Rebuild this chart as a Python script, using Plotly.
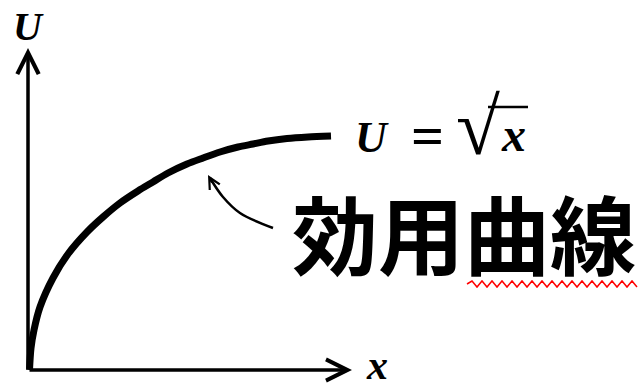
import plotly.graph_objects as go

# Utility curve U = sqrt(x) (arbitrary units)
curve_x = [0.15, 0.3, 0.6, 1.2, 2.5, 4.0, 5.9, 7.5, 9.2, 11.0, 12.5, 14.0, 15.9,
           17.5, 19.2, 21.0, 22.5, 24.0, 25.9, 28.0, 30.3]
curve_u = [0.0, 2.2, 4.0, 6.3, 9.2, 11.6, 13.8, 15.3, 16.7, 17.9, 18.8, 19.7, 20.6,
           21.2, 21.8, 22.3, 22.6, 22.9, 23.15, 23.3, 23.4]

# pointer arrow from label to curve
pointer_x = [24.5, 21.2, 19.5, 18.2]
pointer_u = [14.2, 15.7, 17.3, 19.2]

x_axis_end = 32.4
u_axis_end = 32.2

title_text = "効用曲線"
formula_parts = ["<b><i>U</i></b>", "<b>=</b>", "√", "<b><i>x</i></b>"]
formula_x = [34.4, 39.9, 45.0, 48.5]
formula_y = [23.3, 23.5, 24.3, 23.6]
formula_sizes = [44, 58, 80, 48]

fig = go.Figure()

fig.add_trace(go.Scatter(
    x=curve_x, y=curve_u, mode="lines",
    line=dict(color="black", width=7, shape="spline", smoothing=0.8),
    hoverinfo="skip", showlegend=False,
))

fig.add_trace(go.Scatter(
    x=pointer_x, y=pointer_u, mode="lines",
    line=dict(color="black", width=2.5, shape="spline", smoothing=1.0),
    hoverinfo="skip", showlegend=False,
))

# axes with arrowheads
fig.add_annotation(x=x_axis_end, y=0, ax=0, ay=0, xref="x", yref="y", axref="x", ayref="y",
                   showarrow=True, arrowhead=5, arrowsize=1.2, arrowwidth=3.5, arrowcolor="black", text="")
fig.add_annotation(x=0, y=u_axis_end, ax=0, ay=0, xref="x", yref="y", axref="x", ayref="y",
                   showarrow=True, arrowhead=5, arrowsize=1.2, arrowwidth=3.5, arrowcolor="black", text="")

# pointer arrowhead
fig.add_annotation(x=pointer_x[-1] - 0.2, y=pointer_u[-1] + 0.3, ax=5, ay=9, xref="x", yref="y",
                   showarrow=True, arrowhead=5, arrowsize=0.9, arrowwidth=2.5, arrowcolor="black", text="")

serif = "Liberation Serif, DejaVu Serif, serif"
fig.add_annotation(x=0, y=34.4, xref="x", yref="y", text="<b><i>U</i></b>", showarrow=False,
                   font=dict(family=serif, size=40, color="black"))
fig.add_annotation(x=34.9, y=0.5, xref="x", yref="y", text="<b><i>x</i></b>", showarrow=False,
                   font=dict(family=serif, size=42, color="black"))
for txt, px, py, sz in zip(formula_parts, formula_x, formula_y, formula_sizes):
    fig.add_annotation(x=px, y=py, xref="x", yref="y", text=txt, showarrow=False,
                       font=dict(family=serif, size=sz, color="black"))
# radical bar over x
fig.add_shape(type="line", x0=46.0, x1=50.0, y0=26.3, y1=26.3, xref="x", yref="y",
              line=dict(color="black", width=2.5))

fig.add_annotation(x=26.2, y=13.9, xref="x", yref="y", xanchor="left", text="<b>" + title_text + "</b>",
                   showarrow=False,
                   font=dict(family="Noto Sans CJK JP", size=86, color="black", weight=900))

# red wavy underline (spell-check squiggle) under the last two characters
sq_x0, sq_x1, sq_y, sq_amp, sq_step = 43.9, 61.2, 8.6, 0.3, 0.5
path = f"M {sq_x0},{sq_y}"
k = 1
xx = sq_x0
while xx + sq_step <= sq_x1:
    xx += sq_step
    path += f" L {xx:.2f},{sq_y + (sq_amp if k % 2 else -sq_amp):.2f}"
    k += 1
fig.add_shape(type="path", path=path, xref="x", yref="y", line=dict(color="red", width=1.5))

fig.update_layout(
    width=643, height=388,
    margin=dict(l=0, r=0, t=0, b=0),
    paper_bgcolor="white", plot_bgcolor="white",
    xaxis=dict(range=[-2.8, 61.5], visible=False, fixedrange=True),
    yaxis=dict(range=[-1.8, 37.0], visible=False, fixedrange=True),
    showlegend=False,
)

fig.write_html("out.html", config={"displayModeBar": False},
               post_script="document.body.style.margin='0px';")
